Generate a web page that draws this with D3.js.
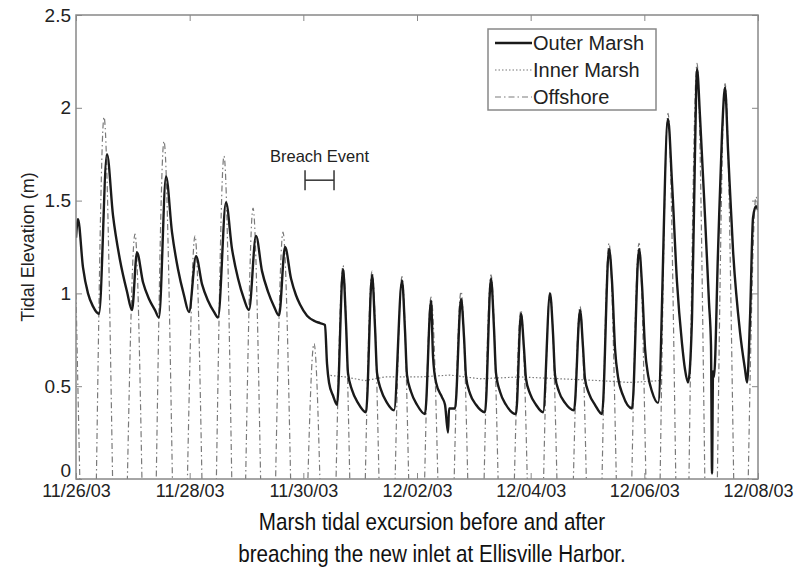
<!DOCTYPE html>
<html>
<head>
<meta charset="utf-8">
<script src="https://cdn.jsdelivr.net/npm/d3@7"></script>
<style>
body { margin: 0; background: #fff; }
text { font-family: "Liberation Sans", Arial, Helvetica, sans-serif; fill: #222; }
</style>
</head>
<body>
<div id="chart"></div>
<script>
// times are days after 11/26/03 00:00, elevations in metres
var outerDays = [0, 0.035, 0.123, 0.211, 0.299, 0.405, 0.545, 0.651, 0.774, 0.897, 0.985,
  1.073, 1.179, 1.285, 1.390, 1.460, 1.584, 1.689, 1.795, 1.900, 1.988,
  2.112, 2.217, 2.323, 2.428, 2.499, 2.639, 2.745, 2.851, 2.956, 3.044,
  3.167, 3.273, 3.378, 3.484, 3.572, 3.678, 3.783, 3.871, 3.942, 4.065, 4.206, 4.294, 4.381, 4.417, 4.452, 4.522, 4.593,
  4.698, 4.751, 4.786, 4.856, 4.962, 5.103,
  5.209, 5.261, 5.297, 5.367, 5.473, 5.596,
  5.736, 5.789, 5.824, 5.895, 6.000, 6.141,
  6.247, 6.282, 6.335, 6.441, 6.493, 6.546, 6.564, 6.669,
  6.775, 6.828, 6.863, 6.933, 7.039, 7.197,
  7.302, 7.355, 7.390, 7.461, 7.566, 7.742,
  7.830, 7.883, 7.918, 7.989, 8.094, 8.218,
  8.341, 8.394, 8.429, 8.499, 8.605, 8.763,
  8.869, 8.921, 8.956, 9.027, 9.132, 9.256,
  9.379, 9.432, 9.485, 9.537, 9.625, 9.784,
  9.907, 9.960, 10.013, 10.066, 10.136, 10.241,
  10.417, 10.488, 10.575, 10.663, 10.716, 10.769,
  10.839, 10.892, 10.927, 10.980, 11.068, 11.138, 11.173, 11.191, 11.209, 11.226,
  11.297, 11.367, 11.420, 11.473, 11.561, 11.684, 11.772, 11.807,
  11.860, 11.913, 11.965, 12.0];
var outerElev = [1.30, 1.40, 1.14, 1.00, 0.93, 0.89, 1.75, 1.42, 1.18, 1.01, 0.91,
  1.22, 1.06, 0.97, 0.91, 0.87, 1.63, 1.33, 1.13, 0.99, 0.90,
  1.20, 1.05, 0.96, 0.90, 0.87, 1.49, 1.24, 1.08, 0.97, 0.91,
  1.31, 1.12, 1.01, 0.93, 0.88, 1.25, 1.08, 0.99, 0.94, 0.88, 0.85, 0.84, 0.83, 0.62, 0.52, 0.45, 0.40,
  1.13, 0.84, 0.57, 0.48, 0.41, 0.36,
  1.10, 0.82, 0.57, 0.48, 0.41, 0.37,
  1.07, 0.80, 0.56, 0.47, 0.40, 0.35,
  0.96, 0.66, 0.52, 0.44, 0.40, 0.25, 0.38, 0.38,
  0.97, 0.76, 0.55, 0.46, 0.40, 0.36,
  1.08, 0.81, 0.57, 0.47, 0.40, 0.35,
  0.89, 0.70, 0.54, 0.46, 0.40, 0.36,
  1.00, 0.78, 0.56, 0.47, 0.41, 0.37,
  0.91, 0.71, 0.54, 0.46, 0.40, 0.35,
  1.24, 1.06, 0.70, 0.55, 0.45, 0.38,
  1.24, 1.04, 0.70, 0.56, 0.47, 0.41,
  1.94, 1.59, 1.06, 0.73, 0.59, 0.52,
  0.87, 1.77, 2.21, 1.95, 1.41, 0.95, 0.72, 0.03, 0.58, 0.55,
  1.23, 1.86, 2.11, 1.77, 1.23, 0.79, 0.59, 0.52,
  0.87, 1.41, 1.47, 1.45];

var innerDays = [4.417, 4.733, 5.085, 5.437, 6.053, 6.581, 7.109, 7.813, 8.516, 9.220, 9.748, 10.276];
var innerElev = [0.56, 0.55, 0.53, 0.55, 0.55, 0.56, 0.54, 0.55, 0.54, 0.53, 0.52, 0.53];

var offDays = [0, 0.246, 0.493, 0.765, 1.038, 1.293, 1.548, 1.821, 2.094, 2.349, 2.604, 2.859,
  3.115, 3.378, 3.642, 3.915, 4.188, 4.443, 4.698, 4.953, 5.209, 5.473, 5.736, 5.992,
  6.247, 6.511, 6.775, 7.039, 7.302, 7.566, 7.830, 8.086, 8.341, 8.605, 8.869, 9.124,
  9.379, 9.643, 9.907, 10.162, 10.417, 10.672, 10.927, 11.174, 11.420, 11.693, 11.965, 12.05];
var offElev = [1.00, -1.5, 1.95, -1.4, 1.32, -1.5, 1.82, -1.4, 1.31, -1.5, 1.74, -1.4,
  1.46, -1.4, 1.33, -1.4, 0.73, -1.3, 1.15, -1.4, 1.12, -1.4, 1.09, -1.4,
  0.98, -1.3, 1.01, -1.4, 1.10, -1.3, 0.91, -1.4, 1.01, -1.3, 0.93, -1.4,
  1.27, -1.4, 1.27, -1.5, 1.97, -1.6, 2.24, -1.6, 2.13, -1.5, 1.52, 1.2];

var tickLabels = ["11/26/03", "11/28/03", "11/30/03", "12/02/03", "12/04/03", "12/06/03", "12/08/03"];
var yTicks = [0, 0.5, 1, 1.5, 2, 2.5];
var seriesNames = ["Outer Marsh", "Inner Marsh", "Offshore"];
var breachDays = [4.03, 4.54];
var breachLevel = 1.61;
var breachLabel = "Breach Event";
var yLabel = "Tidal Elevation (m)";
var captionLines = ["Marsh tidal excursion before and after", "breaching the new inlet at Ellisville Harbor."];

var svgWidth = 803, svgHeight = 570;
var margin = { top: 15, right: 45, bottom: 91, left: 76 };
var width = svgWidth - margin.left - margin.right;
var height = svgHeight - margin.top - margin.bottom;

var parse = d3.timeParse("%m/%d/%y");
var start = parse(tickLabels[0]);
function toDate(d) { return new Date(start.getTime() + d * 864e5); }
function pts(days, vals) { return days.map(function(d, i) { return { date: toDate(d), value: vals[i] }; }); }

var outer = pts(outerDays, outerElev);
var inner = pts(innerDays, innerElev);
var off = pts(offDays, offElev);

var svg = d3.select("#chart").append("svg")
    .attr("width", svgWidth)
    .attr("height", svgHeight);

var g = svg.append("g")
    .attr("transform", "translate(" + margin.left + "," + margin.top + ")");

var x = d3.scaleTime()
    .domain([start, parse(tickLabels[tickLabels.length - 1])])
    .range([0, width]);
var y = d3.scaleLinear()
    .domain([0, 2.5])
    .range([height, 0]);

svg.append("defs").append("clipPath").attr("id", "plotclip")
  .append("rect").attr("width", width).attr("height", height);

var axisColor = "#888";

// axes, matlab style ticks pointing inward
var xb = g.append("g")
    .attr("transform", "translate(0," + height + ")")
    .call(d3.axisBottom(x).tickValues(tickLabels.map(parse)).tickFormat(d3.timeFormat("%m/%d/%y")).tickSizeInner(-6).tickSizeOuter(0).tickPadding(5));
var xt = g.append("g")
    .call(d3.axisTop(x).tickValues(tickLabels.map(parse)).tickFormat("").tickSizeInner(-6).tickSizeOuter(0));
var yl = g.append("g")
    .call(d3.axisLeft(y).tickValues(yTicks).tickFormat(d3.format("")).tickSizeInner(-6).tickSizeOuter(0).tickPadding(5));
var yr = g.append("g")
    .attr("transform", "translate(" + width + ",0)")
    .call(d3.axisRight(y).tickValues(yTicks).tickFormat("").tickSizeInner(-6).tickSizeOuter(0));

[xb, xt, yl, yr].forEach(function(a) {
  a.select(".domain").remove();
  a.selectAll(".tick line").attr("stroke", axisColor).attr("stroke-width", 1);
});
xb.selectAll("text").attr("font-size", 18).attr("fill", "#222").attr("font-family", null);
yl.selectAll("text").attr("font-size", 19).attr("fill", "#222").attr("font-family", null);
// the zero label sits a little higher, as in matlab output
yl.selectAll("text").filter(function(d) { return d === 0; }).attr("dy", "-0.12em");

var lines = g.append("g").attr("clip-path", "url(#plotclip)");

var curved = d3.line()
    .x(function(d) { return x(d.date); })
    .y(function(d) { return y(d.value); })
    .curve(d3.curveMonotoneX);
var straight = d3.line()
    .x(function(d) { return x(d.date); })
    .y(function(d) { return y(d.value); });

lines.append("path")
    .datum(off)
    .attr("fill", "none")
    .attr("stroke", "#7a7a7a")
    .attr("stroke-width", 1.2)
    .attr("stroke-dasharray", "6,3,1.5,3")
    .attr("d", curved);

lines.append("path")
    .datum(inner)
    .attr("fill", "none")
    .attr("stroke", "#777")
    .attr("stroke-width", 1.2)
    .attr("stroke-dasharray", "1.5,2")
    .attr("d", straight);

lines.append("path")
    .datum(outer)
    .attr("fill", "none")
    .attr("stroke", "#1a1a1a")
    .attr("stroke-width", 2.4)
    .attr("stroke-linejoin", "round")
    .attr("d", curved);

// frame
g.append("rect")
    .attr("width", width)
    .attr("height", height)
    .attr("fill", "none")
    .attr("stroke", axisColor)
    .attr("stroke-width", 1.5);

// breach event marker
var bx0 = x(toDate(breachDays[0])), bx1 = x(toDate(breachDays[1])), by = y(breachLevel);
var br = g.append("g").attr("stroke", "#333").attr("stroke-width", 1.5);
br.append("line").attr("x1", bx0).attr("x2", bx1).attr("y1", by).attr("y2", by);
br.append("line").attr("x1", bx0).attr("x2", bx0).attr("y1", by - 10).attr("y2", by + 10);
br.append("line").attr("x1", bx1).attr("x2", bx1).attr("y1", by - 10).attr("y2", by + 10);
g.append("text")
    .attr("x", (bx0 + bx1) / 2)
    .attr("y", by - 18)
    .attr("text-anchor", "middle")
    .attr("font-size", 16.5)
    .text(breachLabel);

// y label
svg.append("text")
    .attr("transform", "translate(34," + (margin.top + y(1.25)) + ") rotate(-90)")
    .attr("text-anchor", "middle")
    .attr("font-size", 18)
    .attr("fill", "#333")
    .text(yLabel);

// legend
var lg = g.append("g").attr("transform", "translate(412,14)");
lg.append("rect")
    .attr("width", 168).attr("height", 81)
    .attr("fill", "#fff")
    .attr("stroke", axisColor).attr("stroke-width", 1.5);
var styles = [
  { stroke: "#1a1a1a", w: 2.4, dash: null },
  { stroke: "#777", w: 1.2, dash: "1.5,2" },
  { stroke: "#7a7a7a", w: 1.2, dash: "6,3,1.5,3" }
];
seriesNames.forEach(function(name, i) {
  var row = lg.append("g").attr("transform", "translate(0," + (14 + i * 27) + ")");
  row.append("line")
      .attr("x1", 7).attr("x2", 44)
      .attr("stroke", styles[i].stroke)
      .attr("stroke-width", styles[i].w)
      .attr("stroke-dasharray", styles[i].dash);
  row.append("text")
      .attr("x", 45)
      .attr("dy", "0.35em")
      .attr("font-size", 20)
      .text(name);
});

// caption, squeezed horizontally like a narrow face
var cap = svg.append("g").attr("transform", "translate(432,0) scale(0.86,1)");
cap.selectAll("text")
  .data(captionLines)
  .enter().append("text")
    .attr("x", 0)
    .attr("y", function(d, i) { return 530 + i * 32; })
    .attr("text-anchor", "middle")
    .attr("font-size", 24)
    .style("fill", "#111")
    .text(function(d) { return d; });
</script>
</body>
</html>
